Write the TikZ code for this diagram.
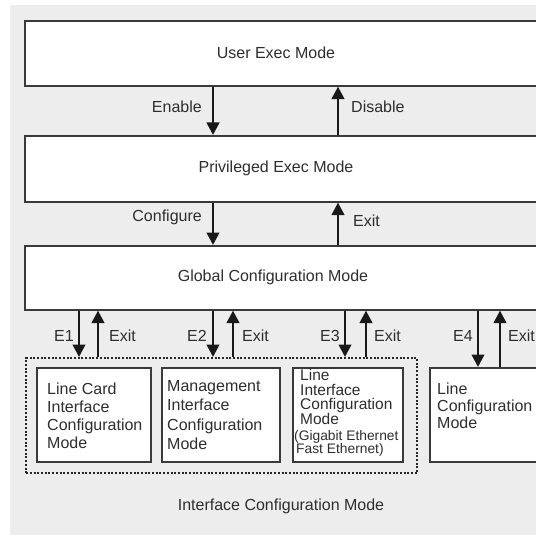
\documentclass[tikz,border=0pt]{standalone}
\usepackage{fontspec}
\setmainfont{Liberation Sans}
\usetikzlibrary{arrows.meta}
\definecolor{bg}{HTML}{EDEDED}
\definecolor{ink}{HTML}{2E2E2E}
\definecolor{edge}{HTML}{3A3A3A}
\tikzset{
  box/.style={draw=edge, line width=1.6pt, fill=white, anchor=north west, inner sep=0pt},
  txt/.style={text=ink, font=\fontsize{16}{18}\selectfont, inner sep=0pt},
  lbl/.style={text=ink, font=\fontsize{16}{18}\selectfont, inner sep=0pt},
  arr/.style={line width=2.6pt, draw=black!90, -{Triangle[width=12.5pt,length=12.5pt]}},
  dotbox/.style={draw=black!85, line width=2.4pt, dash pattern=on 2pt off 1.7pt, anchor=north west, inner sep=0pt}
}
\begin{document}
\begin{tikzpicture}[x=1pt,y=-1pt]
\useasboundingbox (0,0) rectangle (536,535);
\fill[white] (0,0) rectangle (536,535);
\fill[bg] (10,5) rectangle (536,535);
\begin{scope}
\clip (0,0) rectangle (536,535);
% main boxes
\node[box, minimum width=536pt, minimum height=65pt] (user) at (24,20) {};
\node[txt] (usert) at (276,53) {User Exec Mode};
\node[box, minimum width=536pt, minimum height=66pt] (priv) at (24,135) {};
\node[txt] (privt) at (276,168) {Privileged Exec Mode};
\node[box, minimum width=536pt, minimum height=64pt] (glob) at (24,245) {};
\node[txt] (globt) at (273,277) {Global Configuration Mode};
% interface group
\node[dotbox, minimum width=391pt, minimum height=115pt] (iface) at (25,357) {};
\node[box, minimum width=114pt, minimum height=94pt] (lc) at (36,367) {};
\node[box, minimum width=118pt, minimum height=94pt] (mg) at (161,367) {};
\node[box, minimum width=110pt, minimum height=94pt] (li) at (292,367) {};
\node[box, minimum width=120pt, minimum height=94pt] (lcfg) at (429,367) {};
\node[txt, anchor=west, align=left] (lct) at (47,416) {Line Card\\Interface\\Configuration\\Mode};
\node[txt, anchor=west, align=left, font=\fontsize{16}{19.5}\selectfont] (mgt) at (167,415) {Management\\Interface\\Configuration\\Mode};
\node[txt, anchor=west, align=left, font=\fontsize{15.5}{14.7}\selectfont] (lit) at (300,397) {Line\\Interface\\Configuration\\Mode};
\node[txt, anchor=west, align=left, font=\fontsize{13.8}{13.5}\selectfont] (lit2) at (294,443.5) {(Gigabit Ethernet\\\hspace*{2pt}Fast Ethernet)};
\node[txt, anchor=west, align=left, font=\fontsize{16}{17}\selectfont] (lcfgt) at (437,406) {Line\\Configuration\\Mode};
\node[txt] (ifacet) at (281,506) {Interface Configuration Mode};
% arrows user/priv
\draw[arr] (user.south -| 213,0) -- (priv.north -| 213,0);
\draw[arr] (priv.north -| 338,0) -- (user.south -| 338,0);
\node[lbl, anchor=east] (en) at (202,107) {Enable};
\node[lbl, anchor=west] (dis) at (351,107) {Disable};
% priv/glob
\draw[arr] (priv.south -| 213,0) -- (glob.north -| 213,0);
\draw[arr] (glob.north -| 338,0) -- (priv.south -| 338,0);
\node[lbl, anchor=east] (cf) at (202,217) {Configure};
\node[lbl, anchor=west] (ex0) at (353,221) {Exit};
% lower arrows
\draw[arr] (glob.south -| 79,0) -- (iface.north -| 79,0);
\draw[arr] (iface.north -| 98,0) -- (glob.south -| 98,0);
\draw[arr] (glob.south -| 213,0) -- (iface.north -| 213,0);
\draw[arr] (iface.north -| 233,0) -- (glob.south -| 233,0);
\draw[arr] (glob.south -| 345,0) -- (iface.north -| 345,0);
\draw[arr] (iface.north -| 366,0) -- (glob.south -| 366,0);
\draw[arr] (glob.south -| 478,0) -- (lcfg.north -| 478,0);
\draw[arr] (lcfg.north -| 500,0) -- (glob.south -| 500,0);
\node[lbl, anchor=east] (e1) at (74,336) {E1};
\node[lbl, anchor=west] (x1) at (109,336) {Exit};
\node[lbl, anchor=east] (e2) at (207,336) {E2};
\node[lbl, anchor=west] (x2) at (242,336) {Exit};
\node[lbl, anchor=east] (e3) at (340,336) {E3};
\node[lbl, anchor=west] (x3) at (374,336) {Exit};
\node[lbl, anchor=east] (e4) at (473,336) {E4};
\node[lbl, anchor=west] (x4) at (508,336) {Exit};
\end{scope}
\end{tikzpicture}
\end{document}
